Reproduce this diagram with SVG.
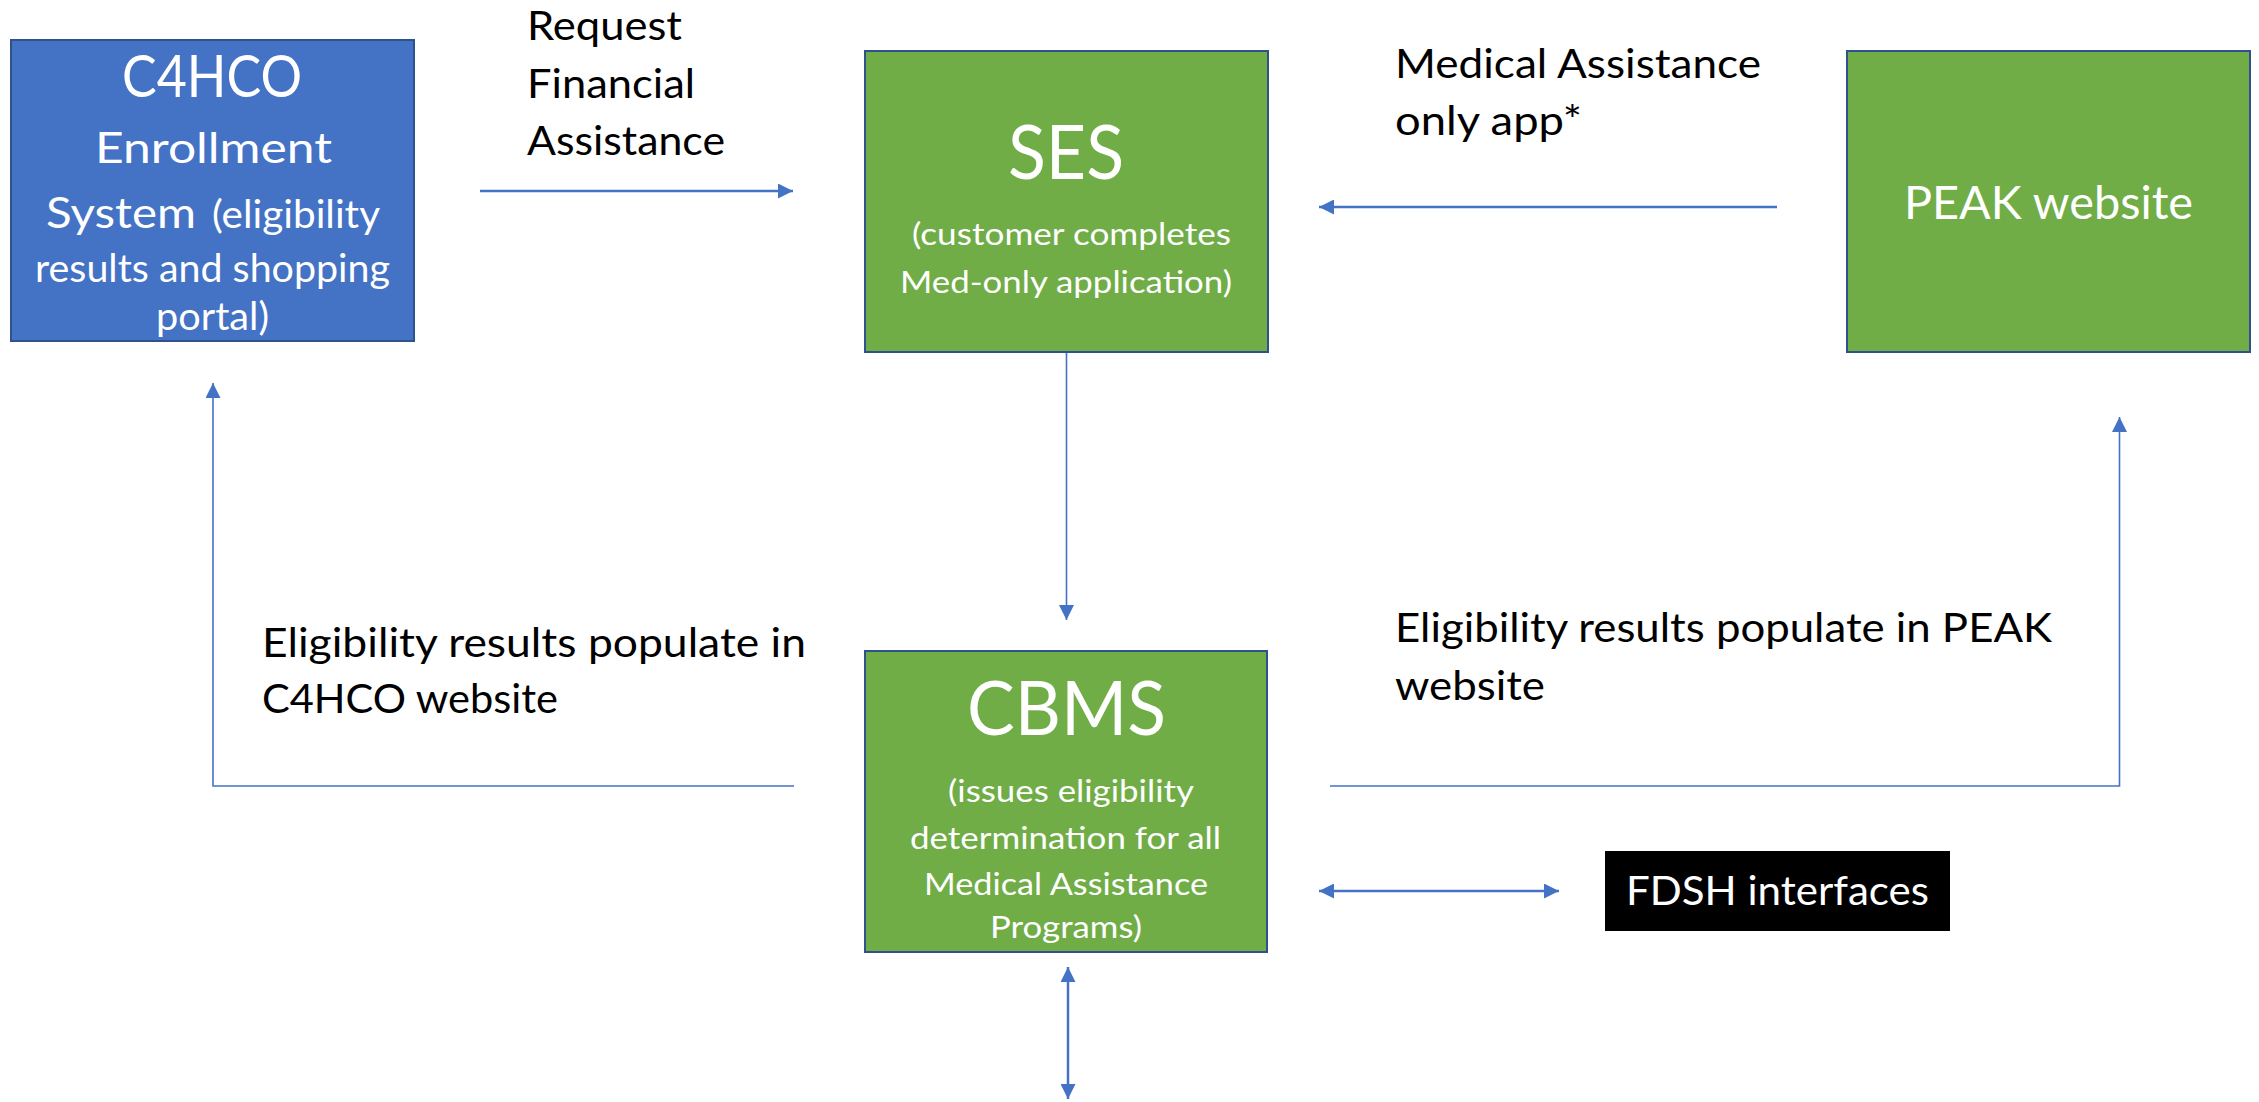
<svg xmlns="http://www.w3.org/2000/svg" width="2259" height="1102" viewBox="0 0 2259 1102">
<style>
.box{stroke:#2F528F;stroke-width:2}
.green{fill:#70AD47}
.blue{fill:#4472C4}
text{font-family:Lato,"Open Sans","Liberation Sans",sans-serif}
.w{fill:#FFFFFF}
.k{fill:#000000}
.lbl{font-size:40px}
.sm{font-size:31px}
.big{font-size:75px}
.con{stroke:#4472C4;fill:none}
.thick{stroke-width:2.5}
.thin{stroke-width:1.6}
</style>
<defs>
<marker id="ah" viewBox="0 0 10 10" refX="10" refY="5" markerWidth="15" markerHeight="15" markerUnits="userSpaceOnUse" orient="auto-start-reverse">
<path d="M0,0 L10,5 L0,10 Z" fill="#4472C4"/>
</marker>
</defs>
<rect width="2259" height="1102" fill="#FFFFFF"/>
<g id="connectors">
<line class="con thick" x1="480" y1="191" x2="793" y2="191" marker-end="url(#ah)"/>
<line class="con thick" x1="1777" y1="207" x2="1319" y2="207" marker-end="url(#ah)"/>
<line class="con thin" x1="1066.5" y1="352" x2="1066.5" y2="620" marker-end="url(#ah)"/>
<polyline class="con thin" points="794,786 213,786 213,383" marker-end="url(#ah)"/>
<polyline class="con thin" points="1330,786 2119.5,786 2119.5,417" marker-end="url(#ah)"/>
<line class="con thick" x1="1319" y1="891" x2="1559" y2="891" marker-start="url(#ah)" marker-end="url(#ah)"/>
<line class="con thick" x1="1068" y1="967" x2="1068" y2="1099" marker-start="url(#ah)" marker-end="url(#ah)"/>
</g>
<g id="c4hco">
<rect class="box blue" x="11" y="40" width="403" height="301"/>
<text class="w" x="122" y="97" font-size="58" textLength="180" lengthAdjust="spacingAndGlyphs">C4HCO</text>
<text class="w" x="95" y="163" font-size="43" textLength="237" lengthAdjust="spacingAndGlyphs">Enrollment</text>
<text class="w" x="46" y="228" font-size="43" textLength="150" lengthAdjust="spacingAndGlyphs">System</text>
<text class="w" x="212" y="228" font-size="38" textLength="168" lengthAdjust="spacingAndGlyphs">(eligibility</text>
<text class="w" x="35" y="282" font-size="38" textLength="355" lengthAdjust="spacingAndGlyphs">results and shopping</text>
<text class="w" x="156" y="330" font-size="38" textLength="113" lengthAdjust="spacingAndGlyphs">portal)</text>
</g>
<g id="ses">
<rect class="box green" x="865" y="51" width="403" height="301"/>
<text class="w big" x="1008" y="179" textLength="116" lengthAdjust="spacingAndGlyphs">SES</text>
<text class="w sm" x="912" y="245" textLength="319" lengthAdjust="spacingAndGlyphs">(customer completes</text>
<text class="w sm" x="900" y="293" textLength="332" lengthAdjust="spacingAndGlyphs">Med-only application)</text>
</g>
<g id="peak">
<rect class="box green" x="1847" y="51" width="403" height="301"/>
<text class="w" x="1904" y="219" font-size="46" textLength="289" lengthAdjust="spacingAndGlyphs">PEAK website</text>
</g>
<g id="cbms">
<rect class="box green" x="865" y="651" width="402" height="301"/>
<text class="w big" x="967" y="735" textLength="199" lengthAdjust="spacingAndGlyphs">CBMS</text>
<text class="w sm" x="948" y="802" textLength="246" lengthAdjust="spacingAndGlyphs">(issues eligibility</text>
<text class="w sm" x="910" y="849" textLength="311" lengthAdjust="spacingAndGlyphs">determination for all</text>
<text class="w sm" x="924" y="895" textLength="284" lengthAdjust="spacingAndGlyphs">Medical Assistance</text>
<text class="w sm" x="990" y="938" textLength="152" lengthAdjust="spacingAndGlyphs">Programs)</text>
</g>
<g id="fdsh">
<rect x="1605" y="851" width="345" height="80" fill="#000000"/>
<text class="w lbl" x="1626" y="905" textLength="303" lengthAdjust="spacingAndGlyphs">FDSH interfaces</text>
</g>
<g id="labels">
<text class="k lbl" x="527" y="40" textLength="155" lengthAdjust="spacingAndGlyphs">Request</text>
<text class="k lbl" x="527" y="98" textLength="168" lengthAdjust="spacingAndGlyphs">Financial</text>
<text class="k lbl" x="527" y="155" textLength="198" lengthAdjust="spacingAndGlyphs">Assistance</text>
<text class="k lbl" x="1395" y="78" textLength="366" lengthAdjust="spacingAndGlyphs">Medical Assistance</text>
<text class="k lbl" x="1395" y="135" textLength="187" lengthAdjust="spacingAndGlyphs">only app*</text>
<text class="k lbl" x="262" y="657" textLength="544" lengthAdjust="spacingAndGlyphs">Eligibility results populate in</text>
<text class="k lbl" x="262" y="713" textLength="296" lengthAdjust="spacingAndGlyphs">C4HCO website</text>
<text class="k lbl" x="1395" y="642" textLength="657" lengthAdjust="spacingAndGlyphs">Eligibility results populate in PEAK</text>
<text class="k lbl" x="1395" y="700" textLength="150" lengthAdjust="spacingAndGlyphs">website</text>
</g>
</svg>
